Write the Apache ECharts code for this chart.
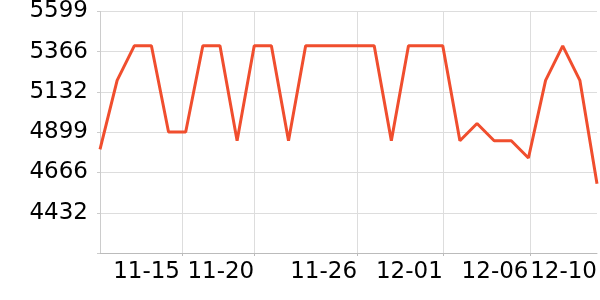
<!DOCTYPE html>
<html>
<head>
<meta charset="utf-8">
<script src="https://cdn.jsdelivr.net/npm/echarts@6/dist/echarts.min.js"></script>
<style>html,body{margin:0;padding:0;background:#fff}#c{width:600px;height:300px}</style>
</head>
<body>
<div id="c"></div>
<script>
const dates = ['2023-11-11','2023-11-12','2023-11-13','2023-11-14','2023-11-15','2023-11-16','2023-11-17','2023-11-18','2023-11-19','2023-11-20',
  '2023-11-21','2023-11-22','2023-11-23','2023-11-24','2023-11-25','2023-11-26','2023-11-27','2023-11-28','2023-11-29','2023-11-30',
  '2023-12-01','2023-12-02','2023-12-03','2023-12-04','2023-12-05','2023-12-06','2023-12-07','2023-12-08','2023-12-09','2023-12-10'];
const values = [4800,5200,5400,5400,4900,4900,5400,5400,4850,5400,
  5400,4850,5400,5400,5400,5400,5400,4850,5400,5400,
  5400,4850,4950,4850,4850,4750,5200,5400,5200,4600];
const xTickTimes = ['2023-11-15T18:45:00','2023-11-20T00:00:00','2023-11-26T00:00:00','2023-12-01T00:00:00','2023-12-06T03:00:00'];
const xLabelTimes = ['2023-11-15T16:00:00','2023-11-20T00:00:00','2023-11-26T00:00:00','2023-12-01T00:00:00','2023-12-06T00:00:00','2023-12-10T00:00:00'];
const yMin = 4199, yMax = 5599;
const yTicks = [4199, 4432.33, 4665.67, 4899, 5132.33, 5365.67, 5599];

const toTs = s => new Date(s.length === 10 ? s + 'T00:00:00' : s).getTime();
const font = 'DejaVu Sans';
const chart = echarts.init(document.getElementById('c'), null, {renderer: 'canvas'});
chart.setOption({
  animation: false,
  grid: {left: 100, right: 2, top: 10, bottom: 47, containLabel: false},
  xAxis: {
    type: 'value',
    min: toTs(dates[0]), max: toTs(dates[dates.length - 1]),
    axisLine: {show: true, lineStyle: {color: '#bbb'}},
    axisTick: {show: true, length: 3, lineStyle: {color: '#bbb'}, customValues: xTickTimes.map(toTs)},
    splitLine: {show: true, lineStyle: {color: '#ddd'}},
    axisLabel: {
      customValues: xLabelTimes.map(toTs), align: 'right', margin: 8,
      hideOverlap: false, showMaxLabel: true, showMinLabel: true,
      fontSize: 23, fontFamily: font, color: '#000',
      formatter: v => { const d = new Date(v); return String(d.getMonth()+1).padStart(2,'0') + '-' + String(d.getDate()).padStart(2,'0'); }
    }
  },
  yAxis: {
    type: 'value', min: yMin, max: yMax,
    axisLine: {show: true, lineStyle: {color: '#ccc'}},
    axisTick: {show: true, length: 3, lineStyle: {color: '#ccc'}, customValues: yTicks},
    splitLine: {show: true, lineStyle: {color: '#ddd'}},
    axisLabel: {
      customValues: yTicks.slice(1), margin: 12,
      fontSize: 23, fontFamily: font, color: '#000',
      formatter: v => String(Math.round(v))
    }
  },
  series: [{
    type: 'line',
    data: dates.map((d, i) => [toTs(d), values[i]]),
    showSymbol: false,
    lineStyle: {color: '#f04e2e', width: 3},
    itemStyle: {color: '#f04e2e'}
  }]
});
</script>
</body>
</html>
